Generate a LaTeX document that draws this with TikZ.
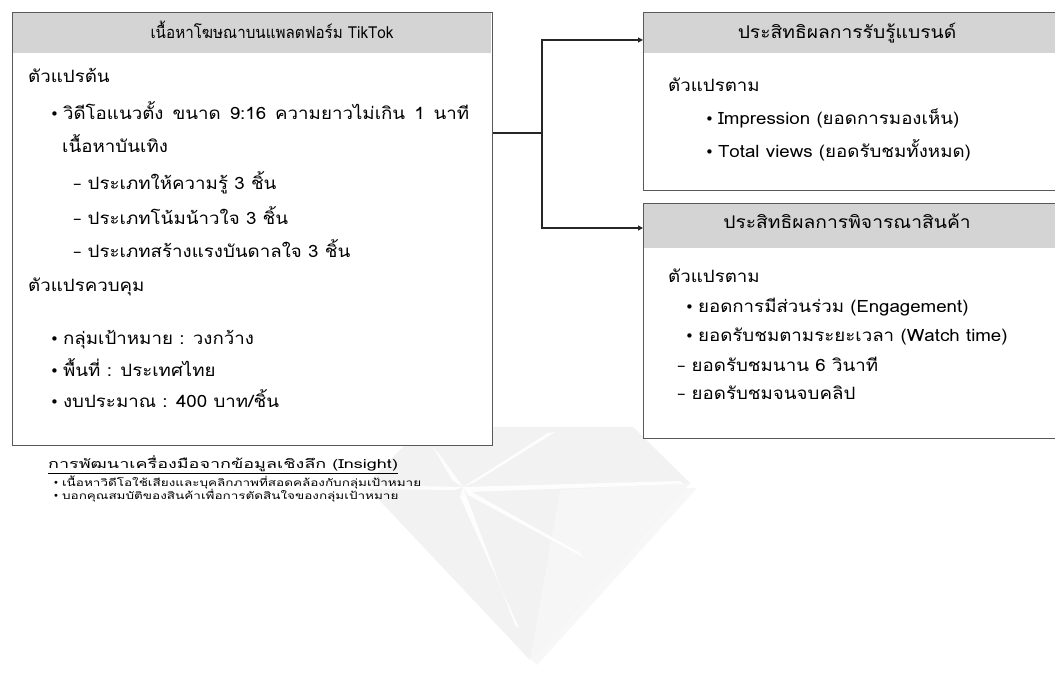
\documentclass[tikz,border=0pt]{standalone}
\usepackage{fontspec}
\setmainfont{Liberation Sans}
\newfontfamily\thai[Script=Thai,FakeStretch=1.1]{Loma}
\newfontfamily\thaic[Script=Thai,FakeStretch=0.92]{Loma}
\newfontfamily\thaiw[Script=Thai,FakeStretch=1.44]{Loma}
\newfontfamily\thais[Script=Thai,FakeStretch=1.35]{Loma}
\newfontfamily\dv{DejaVu Sans}
\usetikzlibrary{arrows.meta}
\newcommand{\bul}{{\dv\fontsize{15}{15}\selectfont\char"2022}\hspace{4pt}}
\newcommand{\sbul}{{\dv\fontsize{10}{10}\selectfont\char"2022}\hspace{3pt}}
\newcommand{\dsh}{{\dv\char"2013}\hspace{6pt}}
\newcommand{\wsp}{\hspace{9pt}}
\begin{document}
\begin{tikzpicture}[x=1pt,y=-1pt,
  frame/.style={draw=black!65,line width=1.4pt,fill=white},
  band/.style={fill=black!17,draw=none},
  txt/.style={anchor=west,inner sep=0pt,text height=12pt,text depth=2pt,font=\thai\fontsize{17}{19}\selectfont},
  hdr/.style={anchor=center,inner sep=0pt,text height=12pt,text depth=2pt,font=\thai\fontsize{17.5}{19}\selectfont},
  sm/.style={anchor=west,inner sep=0pt,text height=7pt,text depth=2pt,font=\thais\fontsize{10}{10}\selectfont},
  conn/.style={draw=black!85,line width=1.2pt},
  arr/.style={conn,-{Triangle[length=5pt,width=5pt]}},
  ray/.style={fill=white,opacity=0.9}]
\useasboundingbox (0,0) rectangle (1055,684);
\fill[white] (0,0) rectangle (1055,684);
% watermark
\fill[black!3] (372,490) -- (697,488) -- (537,665) -- cycle;
\fill[black!5] (423,427) -- (633,427) -- (690,483) -- (530,660) -- (365,485) -- cycle;
\fill[black!3.5] (530,660) -- (690,483) -- (560,490) -- cycle;
\coordinate (sc) at (463,487);
\fill[ray] (sc) -- (440,455) -- (433,447) -- (452,480) -- cycle;
\fill[ray] (sc) -- (548,433) -- (555,432) -- (475,482) -- cycle;
\fill[ray] (sc) -- (680,481) -- (683,484) -- (470,492) -- cycle;
\fill[ray] (sc) -- (580,553) -- (583,557) -- (468,495) -- cycle;
\fill[ray] (sc) -- (515,625) -- (519,628) -- (460,497) -- cycle;
\fill[ray] (sc) -- (367,485) -- (367,489) -- (455,490) -- cycle;
% left box
\node[frame,minimum width=480pt,minimum height=433pt,anchor=north west] (L) at (12,12) {};
\fill[band] (12.7,12.7) rectangle (491.3,53);
\node[hdr,font=\thaic\fontsize{16.5}{18}\selectfont] (Lh) at (272,34) {เนื้อหาโฆษณาบนแพลตฟอร์ม TikTok};
\node[txt] (l1) at (28,78) {ตัวแปรต้น};
\node[txt] (l2) at (50,115) {\bul วิดีโอแนวตั้ง\wsp ขนาด\wsp 9:16\wsp ความยาวไม่เกิน\wsp 1\wsp นาที};
\node[txt] (l3) at (62,148) {เนื้อหาบันเทิง};
\node[txt] (l4) at (73,185) {\dsh ประเภทให้ความรู้ 3 ชิ้น};
\node[txt] (l5) at (73,220) {\dsh ประเภทโน้มน้าวใจ 3 ชิ้น};
\node[txt] (l6) at (73,253) {\dsh ประเภทสร้างแรงบันดาลใจ 3 ชิ้น};
\node[txt] (l7) at (28,287) {ตัวแปรควบคุม};
\node[txt] (l8) at (50,340) {\bul กลุ่มเป้าหมาย : วงกว้าง};
\node[txt] (l9) at (50,372) {\bul พื้นที่ : ประเทศไทย};
\node[txt] (l10) at (50,403) {\bul งบประมาณ : 400 บาท/ชิ้น};
% right box 1
\node[frame,minimum width=420pt,minimum height=178pt,anchor=north west] (R1) at (643,12) {};
\fill[band] (643.7,12.7) rectangle (1055,53);
\node[hdr] (R1h) at (847,34) {ประสิทธิผลการรับรู้แบรนด์};
\node[txt] (r1) at (668,87) {ตัวแปรตาม};
\node[txt] (r2) at (705,120) {\bul Impression (ยอดการมองเห็น)};
\node[txt] (r3) at (705,153) {\bul Total views (ยอดรับชมทั้งหมด)};
% right box 2
\node[frame,minimum width=420pt,minimum height=235pt,anchor=north west] (R2) at (643,203) {};
\fill[band] (643.7,203.7) rectangle (1055,248);
\node[hdr] (R2h) at (847,224) {ประสิทธิผลการพิจารณาสินค้า};
\node[txt] (s1) at (668,278) {ตัวแปรตาม};
\node[txt] (s2) at (685,308) {\bul ยอดการมีส่วนร่วม (Engagement)};
\node[txt] (s3) at (685,337) {\bul ยอดรับชมตามระยะเวลา (Watch time)};
\node[txt] (s4) at (677,367) {\dsh ยอดรับชมนาน 6 วินาที};
\node[txt] (s5) at (677,395) {\dsh ยอดรับชมจนจบคลิป};
% connectors
\coordinate (j) at (542,133);
\coordinate (a1) at (643,40);
\coordinate (a2) at (643,228);
\draw[conn] (j -| L.east) -- (j);
\draw[arr] (j) |- (a1);
\draw[arr] (j) |- (a2);
% insight text
\node[anchor=west,inner sep=0pt,text height=9pt,text depth=2pt,font=\thaiw\fontsize{12.5}{14}\selectfont] (ins) at (48,465) {\underline{การพัฒนาเครื่องมือจากข้อมูลเชิงลึก (Insight)}};
\node[sm] (i1) at (53,484) {\sbul เนื้อหาวิดีโอใช้เสียงและบุคลิกภาพที่สอดคล้องกับกลุ่มเป้าหมาย};
\node[sm] (i2) at (53,497) {\sbul บอกคุณสมบัติของสินค้าเพื่อการตัดสินใจของกลุ่มเป้าหมาย};
\end{tikzpicture}
\end{document}
